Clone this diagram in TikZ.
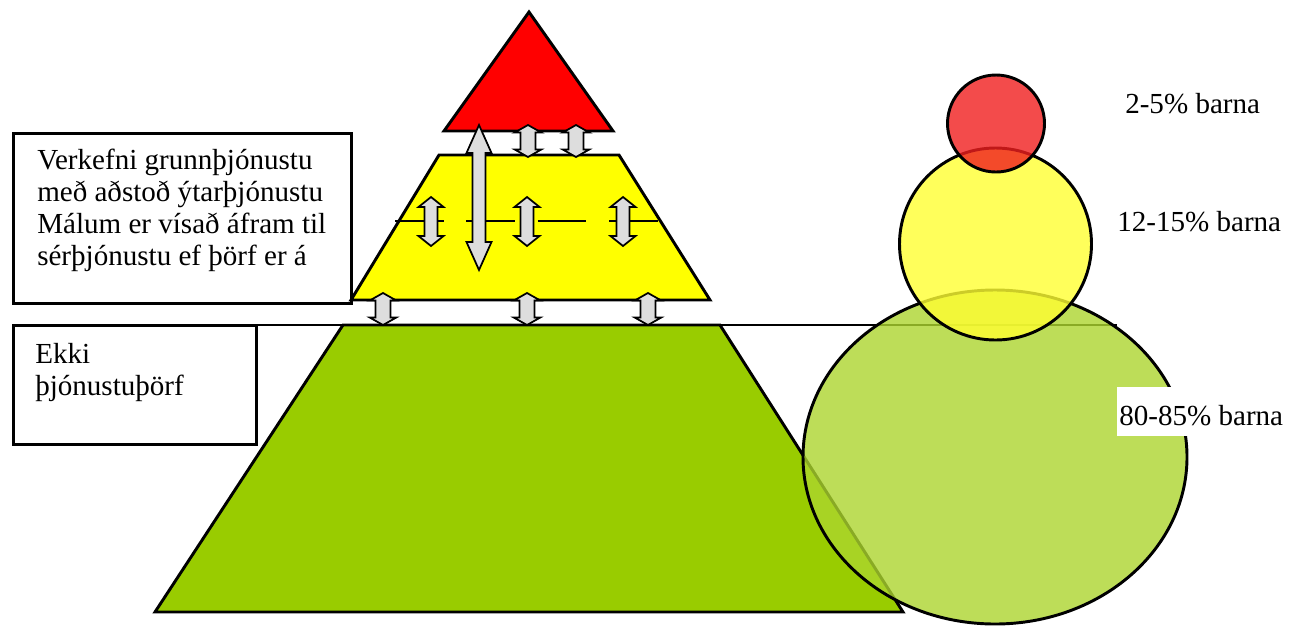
\documentclass[tikz,border=0pt]{standalone}
\usepackage{fontspec}
\setmainfont{Liberation Serif}
\definecolor{arrowgray}{HTML}{DDDDDD}
\definecolor{pyellow}{HTML}{FFFF00}
\definecolor{pgreen}{HTML}{99CC00}
\definecolor{cred}{RGB}{240,30,30}
\definecolor{cyellow}{RGB}{255,255,50}
\definecolor{cgreen}{RGB}{172,213,46}
\newcommand{\dblarr}[6]{%
  \draw[darrow] (#1,#2) -- ({#1+#4},{#2+#6}) -- ({#1+#5},{#2+#6}) -- ({#1+#5},{#3-#6})
    -- ({#1+#4},{#3-#6}) -- (#1,#3) -- ({#1-#4},{#3-#6}) -- ({#1-#5},{#3-#6})
    -- ({#1-#5},{#2+#6}) -- ({#1-#4},{#2+#6}) -- cycle;}
\begin{document}
\begin{tikzpicture}[x=0.75pt,y=-0.75pt,line join=miter,
  edge/.style={draw=black,line width=2.2pt},
  darrow/.style={draw=black,fill=arrowgray,line width=1.3pt},
  circ/.style={draw=black,line width=2.2pt,fill opacity=0.8},
  txt/.style={font=\fontsize{21.8}{23.6}\selectfont,inner sep=0pt,anchor=base west},
  tbox/.style={draw=black,line width=2.2pt,fill=white,anchor=north west,inner sep=0pt}]
\useasboundingbox (0,0) rectangle (1298,626);
% text boxes
\node[tbox,minimum width=338*0.75pt,minimum height=170*0.75pt] (box1) at (12,132) {};
\node[tbox,minimum width=243*0.75pt,minimum height=119*0.75pt] (box2) at (12,324) {};
\node[txt] (t1) at (37,169.5) {Verkefni grunnþjónustu};
\node[txt] (t2) at (37,201.5) {með aðstoð ýtarþjónustu};
\node[txt] (t3) at (37,233.5) {Málum er vísað áfram til};
\node[txt] (t4) at (37,265.5) {sérþjónustu ef þörf er á};
\node[txt] (e1) at (35,363.5) {Ekki};
\node[txt] (e2) at (35,395) {þjónustuþörf};
% horizontal line
\draw[line width=2.2pt] (255,325) -- (1117,325);
% pyramid
\draw[edge,fill=pgreen] (343,325) -- (720,325) -- (903,612) -- (155,612) -- cycle;
\draw[edge,fill=pyellow] (439,155) -- (619,155) -- (710,300) -- (351,300) -- cycle;
\draw[edge,fill=red] (529,12) -- (613,131) -- (444,131) -- cycle;
\draw[line width=1.2pt,dash pattern=on 36.5pt off 17pt] (395,221) -- (658,221);
% arrows
\dblarr{479}{125}{270}{12.5}{6.5}{28}
\dblarr{528}{125}{157}{13.3}{7.5}{7.5}
\dblarr{576}{125}{157}{13.3}{7.5}{7.5}
\dblarr{431}{197}{246}{12.5}{6.5}{10}
\dblarr{527}{197}{246}{12.5}{6.5}{10}
\dblarr{623}{197}{246}{12.5}{6.5}{10}
\dblarr{383}{293}{325}{13.3}{7.5}{7.5}
\dblarr{527}{293}{325}{13.3}{7.5}{7.5}
\dblarr{648}{293}{325}{13.3}{7.5}{7.5}
% circles
\draw[circ,fill=cgreen] (995,457) ellipse [x radius=192, y radius=167];
\draw[circ,fill=cyellow] (995.5,244) circle [radius=96];
\draw[circ,fill=cred] (996,123.5) circle [radius=48.5];
% labels
\node[txt] (l1) at (1125,113.3) {2-5\% barna};
\node[txt] (l2) at (1117,231.7) {12-15\% barna};
\node[txt,fill=white,inner xsep=1.5pt,inner ysep=0pt,text height=28.5pt,text depth=8pt] (l3) at (1117,425) {80-85\% barna};
\end{tikzpicture}
\end{document}
